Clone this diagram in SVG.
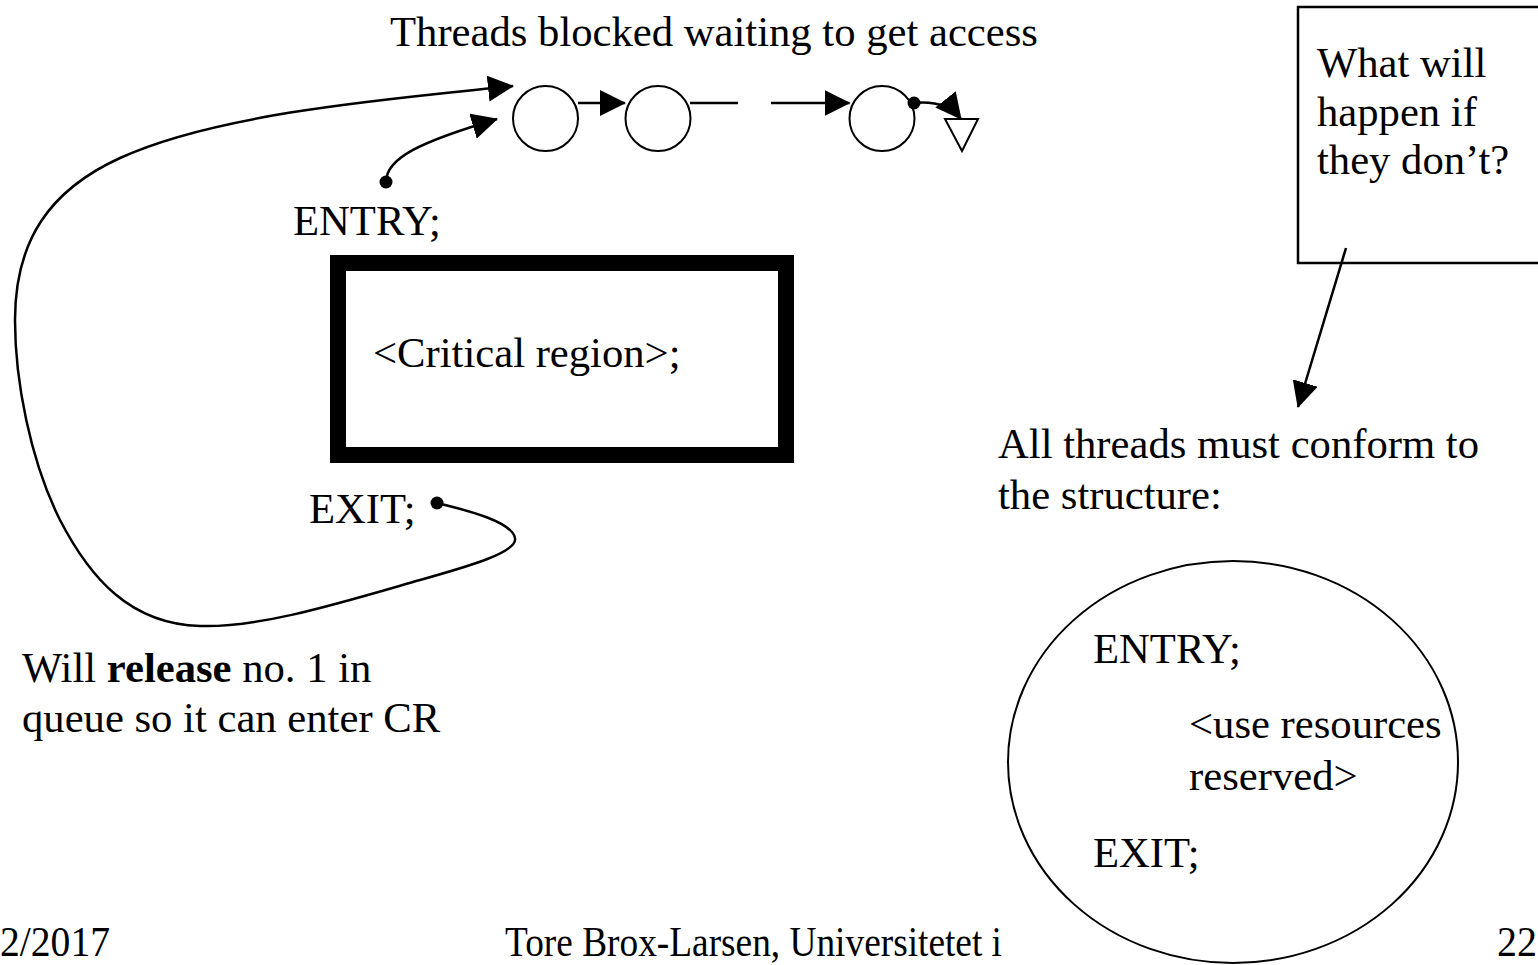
<svg xmlns="http://www.w3.org/2000/svg" width="1538" height="965" viewBox="0 0 1538 965">
<style>
  text { font-family: "Liberation Serif", "Times New Roman", serif; font-size: 42.67px; fill: #000; }
  .ln { fill: none; stroke: #000; stroke-width: 2.5; }
  .thin { fill: none; stroke: #000; stroke-width: 2; }
  .arr { marker-end: url(#ah); }
  .dot { fill: #000; }
</style>
<defs>
  <marker id="ah" markerUnits="userSpaceOnUse" markerWidth="26" markerHeight="26" viewBox="0 0 26 26" refX="25" refY="13" orient="auto">
    <path d="M0,0 L26,13 L0,26 z" fill="#000"/>
  </marker>
</defs>
<rect width="1538" height="965" fill="#fff"/>

<g id="title">
  <text x="390" y="46">Threads blocked waiting to get access</text>
</g>

<g id="queue">
  <ellipse cx="545.5" cy="118.5" rx="32.5" ry="32.5" class="thin"/>
  <ellipse cx="658" cy="118.5" rx="32.5" ry="32.5" class="thin"/>
  <ellipse cx="882" cy="118.5" rx="32.5" ry="32.5" class="thin"/>
  <polygon points="945,119 978,119 962,151" class="thin" fill="#fff"/>
</g>

<g id="critical-region">
  <rect x="338" y="263" width="448" height="192" fill="none" stroke="#000" stroke-width="16"/>
  <text x="373" y="367">&lt;Critical region&gt;;</text>
</g>

<g id="entry-label">
  <text x="293" y="235">ENTRY;</text>
</g>
<g id="exit-label">
  <text x="309" y="523">EXIT;</text>
</g>

<g id="release-note">
  <text x="22" y="682">Will <tspan font-weight="bold">release</tspan> no. 1 in</text>
  <text x="22" y="732">queue so it can enter CR</text>
</g>

<g id="question-box">
  <rect x="1298" y="7" width="245" height="256" fill="#fff" stroke="#000" stroke-width="2.5"/>
  <text x="1317" y="77">What will</text>
  <text x="1317" y="126">happen if</text>
  <text x="1317" y="174">they don’t?</text>
</g>

<g id="conform-note">
  <text x="998" y="458">All threads must conform to</text>
  <text x="998" y="509">the structure:</text>
</g>

<g id="structure">
  <ellipse cx="1233" cy="762" rx="225" ry="201" class="thin"/>
  <text x="1093" y="663">ENTRY;</text>
  <text x="1189" y="738">&lt;use resources</text>
  <text x="1189" y="790">reserved&gt;</text>
  <text x="1093" y="867">EXIT;</text>
</g>

<g id="footer">
  <text x="0" y="956" font-size="44" textLength="110" lengthAdjust="spacingAndGlyphs">2/2017</text>
  <text x="505" y="956" font-size="44" textLength="497" lengthAdjust="spacingAndGlyphs">Tore Brox-Larsen, Universitetet i</text>
  <text x="1497" y="956" font-size="44" textLength="40" lengthAdjust="spacingAndGlyphs">22</text>
</g>

<g id="connectors">
  <path class="ln arr" d="M437,503 C470,511 512,522 515,538 C518,552 470,566 420,580 C340,603 260,628 200,626 C130,624 90,578 60,520 C30,460 15,380 15,320 C15,240 50,190 120,158 C220,112 400,98 513,86"/>
  <circle class="dot" cx="437" cy="503" r="6.5"/>
  <path class="ln arr" d="M386,182 C386,158 420,142 497,119"/>
  <circle class="dot" cx="386" cy="182" r="6.5"/>
  <path class="ln arr" d="M578,103 L625,103"/>
  <path class="ln" d="M690,103 L738,103"/>
  <path class="ln arr" d="M771,103 L849.5,103"/>
  <path class="ln arr" d="M914,103 Q946,100 961,119"/>
  <circle class="dot" cx="914" cy="103" r="6.5"/>
  <path class="ln arr" d="M1346,248 L1298,407"/>
</g>
</svg>
